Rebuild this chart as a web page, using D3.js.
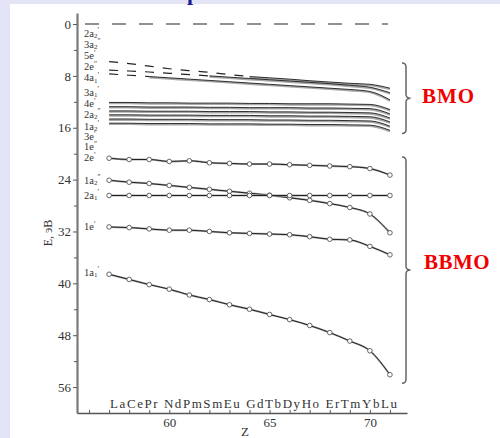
<!DOCTYPE html>
<html><head><meta charset="utf-8">
<script src="https://cdn.jsdelivr.net/npm/d3@7"></script>
<style>
html,body{margin:0;padding:0;background:#fff;}
svg{display:block;}
</style>
</head><body><div id="chart"></div>
<script>
// ---------------- data ----------------
const zValues = [57,58,59,60,61,62,63,64,65,66,67,68,69,70,71];
const elementGroups = [["La","Ce","Pr"],["Nd","Pm","Sm","Eu"],["Gd","Tb","Dy","Ho"],["Er","Tm","Yb","Lu"]];
const xTickValues = [56,57,58,59,60,61,62,63,64,65,66,67,68,69,70,71];
const xTickLabels = [60,65,70];
const yTickValues = [0,8,16,24,32,40,48,56];
const yMinorTicks = [4,12,20,28,36,44,52];

// reference level (E = 0), data extent in Z
const zeroLevelZ = [55.8, 70.9];
const zeroLevelE = 0;

// BMO: three upper levels (dashed at low Z, solid afterwards)
const bmoUpperA = [5.8,6.1,6.5,6.9,7.2,7.45,7.8,8.1,8.3,8.5,8.75,8.95,9.15,9.3,9.9];
const bmoUpperB = [7.1,7.25,7.4,7.6,7.8,8.0,8.2,8.4,8.6,8.8,9.0,9.2,9.45,9.75,10.6];
const bmoUpperC = [7.7,7.9,8.1,8.3,8.5,8.7,8.9,9.1,9.3,9.5,9.7,9.9,10.1,10.4,11.7];
const bmoUpperDashUntil = [64, 62, 59];

// BMO: six nearly flat levels
const bmoFlat1 = [12.1,12.1,12.15,12.15,12.2,12.2,12.2,12.25,12.25,12.3,12.3,12.3,12.35,12.4,13.2];
const bmoFlat2 = [12.75,12.75,12.8,12.8,12.8,12.85,12.85,12.9,12.9,12.9,12.95,12.95,13.0,13.05,13.85];
const bmoFlat3 = [13.4,13.4,13.45,13.45,13.45,13.5,13.5,13.5,13.55,13.55,13.6,13.6,13.65,13.7,14.5];
const bmoFlat4 = [14.0,14.0,14.05,14.05,14.05,14.1,14.1,14.1,14.15,14.15,14.2,14.2,14.25,14.3,15.1];
const bmoFlat5 = [14.65,14.65,14.7,14.7,14.7,14.75,14.75,14.75,14.8,14.8,14.85,14.85,14.9,14.95,15.75];
const bmoFlat6 = [15.3,15.3,15.35,15.35,15.35,15.4,15.4,15.4,15.45,15.45,15.5,15.5,15.55,15.6,16.4];

// BBMO levels with markers
const bbmo2e  = [20.7,20.9,20.9,21.2,21.1,21.4,21.5,21.6,21.6,21.7,21.8,21.9,22.0,22.3,23.3];
const bbmo1a2 = [24.1,24.4,24.6,24.9,25.2,25.5,25.8,26.1,26.4,26.8,27.2,27.7,28.3,29.3,32.2];
const bbmo2a1 = [26.45,26.45,26.45,26.45,26.45,26.45,26.45,26.45,26.45,26.45,26.45,26.45,26.45,26.45,26.45];
const bbmo1e  = [31.3,31.4,31.6,31.8,31.8,32.0,32.2,32.3,32.4,32.5,32.8,33.2,33.3,34.3,35.6];
const bbmo1a1 = [38.6,39.4,40.2,40.9,41.8,42.5,43.3,44.0,44.8,45.6,46.5,47.6,48.9,50.4,54.1];

// orbital labels (left column) and the energy where each label sits
const orbitalNames = ["2a2'","3a2''","5e'","2e''","4a1'","3a1'","4e'","2a2''","1a2'","3e'","1e''",
                      "2e'","1a2''","2a1'","1e'","1a1'"];
const orbitalLabelE = [1.4,3.1,4.8,6.55,8.25,10.5,12.25,13.9,15.75,17.3,18.85,
                       20.6,24.1,26.4,31.2,38.3];

// brackets
const bracketNames = ["BMO","BBMO"];
const bracketTopE = [6.0, 20.5];
const bracketBottomE = [16.9, 55.4];
const bracketTextE = [11.1, 36.7];

// ---------------- drawing ----------------
const SERIF = '"Liberation Serif","Times New Roman","DejaVu Serif",serif';
const W = 500, H = 438;
const svg = d3.select("#chart").append("svg").attr("width", W).attr("height", H)
  .attr("font-family", SERIF);

svg.append("rect").attr("width", W).attr("height", H).attr("fill", "#e4e4f7");
svg.append("rect").attr("x", 10).attr("y", 4).attr("width", W - 10).attr("height", H - 4).attr("fill", "#ffffff");
// cut-off title fragment at the very top
svg.append("text").attr("x", 187).attr("y", -0.5).attr("font-size", 22).attr("font-weight", "bold")
  .attr("fill", "#1c1c8c").text("р");

const x = d3.scaleLinear().domain([55.4, 71.85]).range([77, 407]);
const y = d3.scaleLinear().domain([-1.7, 60]).range([13, 413]);

// Y axis
const yAx = svg.append("g").attr("transform", `translate(${x.range()[0]},0)`)
  .call(d3.axisLeft(y).tickValues(yTickValues).tickSizeInner(4).tickSizeOuter(0).tickPadding(2)
    .tickFormat(d3.format("d")));
yAx.attr("font-family", SERIF).attr("font-size", 13);
yAx.select(".domain").attr("stroke", "#7a7a7a").attr("stroke-width", 2.2);
yAx.selectAll(".tick line").attr("stroke", "#555");
yAx.selectAll(".tick text").attr("fill", "#333");

const yMin = svg.append("g").attr("transform", `translate(${x.range()[0]},0)`)
  .call(d3.axisLeft(y).tickValues(yMinorTicks).tickSize(3).tickFormat(""));
yMin.select(".domain").remove();
yMin.selectAll(".tick line").attr("stroke", "#555");

// X axis
const xAx = svg.append("g").attr("transform", `translate(0,${y.range()[1]})`)
  .call(d3.axisBottom(x).tickValues(xTickValues).tickSizeInner(-3).tickSizeOuter(0).tickPadding(5)
    .tickFormat(d => xTickLabels.includes(d) ? d : ""));
xAx.attr("font-family", SERIF).attr("font-size", 13);
xAx.select(".domain").attr("stroke", "#555").attr("stroke-width", 1.5);
xAx.selectAll(".tick line").attr("stroke", "#555");
xAx.selectAll(".tick text").attr("fill", "#333");

// axis titles
svg.append("text").attr("x", 245).attr("y", 436).attr("text-anchor", "middle")
  .attr("font-size", 13).attr("fill", "#333").text("Z");
svg.append("text").attr("transform", "translate(52,233) rotate(-90)").attr("text-anchor", "middle")
  .attr("font-size", 12).attr("fill", "#333").text("E, эВ");

// element names along the bottom (one continuous line, spread from La to Lu)
const elText = svg.append("text").attr("x", x(zValues[0]) + 1).attr("y", 408)
  .attr("font-size", 13).attr("fill", "#333")
  .attr("textLength", x(zValues[zValues.length - 1]) + 7 - (x(zValues[0]) + 1))
  .attr("lengthAdjust", "spacing");
elText.text(elementGroups.map(g => g.join("")).join(" "));

const plot = svg.append("g");
const series = vals => zValues.map((z, i) => ({ z, e: vals[i] }));
const line = d3.line().x(d => x(d.z)).y(d => y(d.e)).curve(d3.curveMonotoneX);

// zero level
plot.append("path")
  .attr("d", d3.line().x(d => x(d)).y(() => y(zeroLevelE))(zeroLevelZ))
  .attr("fill", "none").attr("stroke", "#222").attr("stroke-width", 1.2)
  .attr("stroke-dasharray", "14,13");

function drawSolid(pts) {
  plot.append("path").attr("d", line(pts)).attr("fill", "none")
    .attr("stroke", "#a8a8a8").attr("stroke-width", 1.8)
    .attr("transform", "translate(0,1)");
  plot.append("path").attr("d", line(pts)).attr("fill", "none")
    .attr("stroke", "#1a1a1a").attr("stroke-width", 0.9);
}

// BMO upper levels
[bmoUpperA, bmoUpperB, bmoUpperC].forEach((vals, k) => {
  const pts = series(vals);
  const cut = bmoUpperDashUntil[k];
  const dashed = pts.filter(p => p.z <= cut);
  const solid = pts.filter(p => p.z >= cut);
  plot.append("path").attr("d", line(dashed)).attr("fill", "none")
    .attr("stroke", "#222").attr("stroke-width", 1.2).attr("stroke-dasharray", "9,9");
  drawSolid(solid);
});

// BMO flat levels
[bmoFlat1, bmoFlat2, bmoFlat3, bmoFlat4, bmoFlat5, bmoFlat6].forEach(vals => drawSolid(series(vals)));

// BBMO levels with markers
[bbmo2e, bbmo1a2, bbmo2a1, bbmo1e, bbmo1a1].forEach(vals => {
  const pts = series(vals);
  plot.append("path").attr("d", line(pts)).attr("fill", "none")
    .attr("stroke", "#a8a8a8").attr("stroke-width", 2);
  plot.append("path").attr("d", line(pts)).attr("fill", "none")
    .attr("stroke", "#111").attr("stroke-width", 0.9);
  plot.append("g").selectAll("circle").data(pts).join("circle")
    .attr("cx", d => x(d.z)).attr("cy", d => y(d.e)).attr("r", 2.3)
    .attr("fill", "#fff").attr("stroke", "#555").attr("stroke-width", 0.9);
});

// orbital labels
const lab = svg.append("g");
orbitalNames.forEach((name, i) => {
  const m = name.match(/^(\d[ae])(\d?)('*)$/);
  const t = lab.append("text").attr("x", 84).attr("y", y(orbitalLabelE[i]) + 3.5)
    .attr("font-size", 10.5).attr("fill", "#333");
  t.append("tspan").text(m[1]);
  if (m[2]) t.append("tspan").attr("font-size", 7).attr("dy", 1.5).text(m[2]);
  if (m[3]) t.append("tspan").attr("font-size", 7.5).attr("dy", m[2] ? -5 : -3)
    .text(m[3].length === 2 ? "\u2033" : "\u2032");
});

// brackets
bracketNames.forEach((name, i) => {
  const t = y(bracketTopE[i]), b = y(bracketBottomE[i]), m = (t + b) / 2;
  const xl = 402, xv = 406, xp = 410.5;
  const p = d3.path();
  p.moveTo(xl, t); p.quadraticCurveTo(xv, t, xv, t + 4);
  p.lineTo(xv, m - 4); p.quadraticCurveTo(xv, m, xp, m);
  p.quadraticCurveTo(xv, m, xv, m + 4);
  p.lineTo(xv, b - 4); p.quadraticCurveTo(xv, b, xl, b);
  svg.append("path").attr("d", p.toString()).attr("fill", "none")
    .attr("stroke", "#666").attr("stroke-width", 1.5);
  svg.append("text").attr("x", i === 0 ? 422 : 424).attr("y", y(bracketTextE[i]) + 7)
    .attr("font-size", 21).attr("font-weight", "bold").attr("fill", "#f00000")
    .attr("letter-spacing", i === 0 ? 1 : 0.5).text(name);
});
</script>
</body></html>
